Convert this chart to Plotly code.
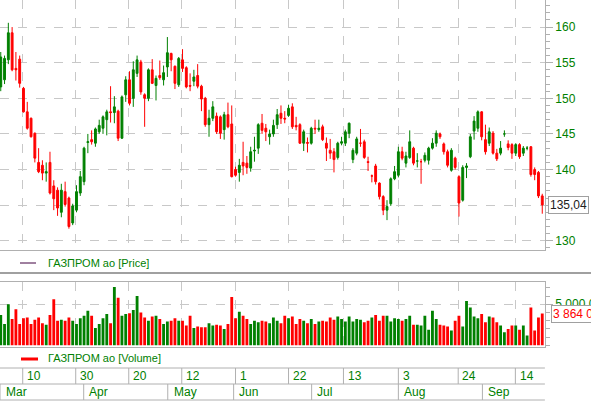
import plotly.graph_objects as go

# candles (one per trading day, Mar..Sep)
opens = [151.6, 152.6, 155.4, 159.2, 154.2, 155.5, 151.4, 148.1, 147.2, 145.1, 141.0, 140.6, 139.5, 141.0, 137.7, 137.1,
         134.0, 136.9, 136.0, 132.5, 134.3, 136.7, 138.3, 143.8, 144.2, 143.7, 145.3, 145.8, 147.0, 148.1, 148.0, 148.2,
         144.4, 150.5, 152.6, 150.0, 153.5,
         155.1, 150.5, 150.0, 154.0, 151.8, 153.2, 152.6, 154.4, 156.3, 154.5, 151.9, 155.4, 154.3, 151.8, 152.4, 153.2,
         151.7, 150.0, 146.3, 147.2, 147.5, 147.4, 145.6, 147.7, 146.4, 140.0, 139.6, 141.0, 140.9, 140.2, 142.6, 143.0,
         146.5, 145.8, 144.6, 145.0,
         146.3, 147.9, 147.2, 147.6, 148.8, 146.2, 146.3, 143.7, 143.8, 143.7, 145.8, 145.6, 146.0, 143.7, 142.7, 142.5,
         141.7, 143.7, 143.7, 145.1, 141.4, 142.3, 143.7, 143.9, 141.1, 139.1, 140.5, 138.1, 136.2, 134.3, 135.2, 138.7,
         139.2, 142.5, 140.9, 141.7,
         143.0, 141.2, 141.1, 141.3, 141.3, 143.0, 143.7, 145.0, 143.6, 142.5, 139.9, 141.6, 139.0, 135.7, 140.3, 141.8,
         145.4, 145.8, 148.1, 144.2, 143.7, 145.1, 142.3, 142.3, 145.0, 143.6, 143.5, 142.3, 143.5, 142.3, 143.0, 143.2,
         140.0, 139.6, 136.3]
closes = [155.8, 155.6, 159.2, 154.0, 154.0, 152.1, 148.1, 145.8, 144.6, 141.6, 139.7, 139.5, 139.7, 136.7, 135.9, 134.6,
          137.1, 135.1, 132.0, 134.9, 136.9, 139.0, 143.0, 143.9, 143.9, 145.7, 146.2, 147.4, 148.1, 148.0, 148.8, 144.4,
          150.2, 152.6, 149.3, 154.0, 155.4,
          150.9, 150.0, 154.0, 152.1, 152.8, 152.9, 153.6, 156.4, 155.4, 152.1, 155.6, 154.2, 151.6, 151.7, 153.0, 151.7,
          149.9, 146.3, 147.2, 148.8, 145.3, 145.1, 147.7, 146.0, 139.0, 139.2, 140.6, 140.5, 140.3, 142.5, 142.7, 146.3,
          145.5, 145.3, 145.0, 146.2,
          147.7, 147.2, 147.1, 148.6, 146.0, 146.0, 143.7, 145.3, 143.7, 145.8, 145.7, 145.8, 144.2, 143.0, 142.3, 141.4,
          143.7, 143.9, 145.3, 146.5, 142.7, 144.3, 143.7, 141.7, 141.0, 139.1, 138.3, 136.2, 134.3, 134.8, 138.7, 139.7,
          142.5, 141.6, 141.9, 143.9,
          140.9, 141.2, 141.1, 142.0, 143.0, 143.7, 145.1, 144.6, 142.5, 140.6, 142.7, 140.3, 135.3, 140.3, 140.5, 144.6,
          146.8, 148.1, 144.6, 142.5, 145.3, 142.3, 141.5, 143.0, 145.0, 143.1, 142.3, 143.5, 141.8, 143.0, 143.0, 139.3,
          139.3, 136.3, 135.04]
highs = [156.5, 156.0, 160.6, 160.0, 156.5, 156.0, 151.6, 149.5, 147.3, 145.2, 143.0, 141.3, 141.0, 142.5, 138.5, 137.5,
         138.0, 138.3, 136.2, 135.2, 137.8, 139.8, 143.2, 145.0, 145.5, 145.9, 147.0, 147.6, 148.4, 151.7, 150.3, 148.4,
         150.4, 153.1, 153.8, 155.2, 156.0,
         155.4, 150.7, 154.2, 155.5, 153.2, 155.3, 154.6, 158.6, 156.4, 154.6, 155.8, 156.9, 154.5, 153.5, 154.0, 154.8,
         151.9, 150.2, 148.4, 149.6, 148.0, 147.6, 148.1, 149.4, 149.0, 140.4, 141.5, 143.9, 141.9, 143.2, 144.6, 146.5,
         147.8, 146.4, 145.6, 147.0,
         148.5, 149.0, 148.2, 149.1, 149.3, 147.4, 146.5, 145.6, 144.5, 146.0, 147.0, 147.0, 146.3, 144.5, 144.3, 143.0,
         143.9, 144.6, 145.6, 146.6, 143.0, 144.6, 145.7, 144.2, 141.8, 139.3, 140.8, 138.2, 136.4, 135.7, 138.9, 140.5,
         143.2, 143.2, 142.5, 145.5,
         143.2, 142.3, 141.5, 142.4, 143.2, 144.4, 145.5, 145.2, 143.8, 142.8, 143.0, 141.8, 139.2, 140.6, 140.9, 145.0,
         147.5, 148.3, 148.2, 146.3, 145.9, 145.4, 142.9, 144.0, 145.5, 144.1, 143.7, 143.7, 143.7, 143.3, 143.3, 143.3,
         140.3, 139.8, 136.6]
lows = [151.0, 152.0, 154.8, 153.8, 152.5, 151.5, 148.0, 145.6, 144.5, 141.0, 139.5, 138.5, 138.3, 136.5, 134.3, 133.5,
        133.3, 134.8, 131.7, 132.2, 134.0, 136.3, 137.8, 142.3, 143.5, 143.2, 145.0, 145.0, 144.8, 146.6, 146.5, 144.0,
        144.3, 149.5, 149.0, 148.8, 153.0,
        150.5, 146.0, 149.6, 152.0, 149.7, 152.6, 151.8, 153.0, 153.8, 151.3, 151.6, 153.7, 151.4, 151.0, 151.7, 151.4,
        148.2, 146.0, 144.6, 146.8, 145.0, 144.3, 144.2, 145.8, 138.9, 139.0, 138.3, 139.2, 139.4, 139.7, 141.1, 142.2,
        145.0, 144.0, 143.5, 144.6,
        145.7, 146.4, 146.5, 147.4, 145.7, 145.5, 143.6, 142.6, 142.4, 143.5, 145.0, 145.3, 144.0, 141.2, 141.5, 139.6,
        141.4, 143.4, 143.3, 144.4, 140.9, 142.0, 143.2, 141.5, 139.8, 138.2, 137.9, 135.8, 133.6, 132.9, 134.9, 138.5,
        138.9, 141.3, 140.3, 141.5,
        140.6, 140.3, 138.0, 141.0, 140.7, 142.8, 143.2, 144.3, 142.1, 140.3, 139.7, 140.0, 133.4, 135.5, 138.8, 141.6,
        144.2, 145.3, 144.1, 142.1, 143.3, 142.1, 141.2, 142.0, 144.6, 142.7, 141.5, 141.9, 141.5, 141.9, 142.7, 139.0,
        138.5, 136.0, 133.8]
# volume, millions of shares
volumes = [3.7, 2.6, 5.0, 3.2, 4.4, 2.6, 3.3, 3.4, 2.6, 3.1, 3.4, 2.7, 2.5, 3.7, 5.6, 3.0, 3.1, 3.0, 3.4, 3.0, 2.6,
           3.3, 3.6, 4.2, 3.6, 2.1, 2.6, 3.3, 3.8, 2.7, 7.1, 5.8, 3.6, 3.8, 3.9, 4.3, 6.0,
           4.0, 3.4, 3.0, 3.5, 3.6, 3.2, 2.6, 2.9, 3.0, 3.3, 3.0, 3.0, 2.4, 3.6, 2.1, 2.3, 2.2, 2.2, 2.7, 2.4, 2.5, 2.4,
           2.0, 2.6, 5.9,
           3.3, 4.1, 3.6, 3.2, 2.6, 3.0, 2.8, 3.0, 2.9, 2.7, 3.4,
           3.0, 2.7, 3.6, 3.3, 3.5, 2.6, 3.2, 3.0, 2.7, 3.2, 2.6, 2.9, 3.0, 2.9, 3.4, 3.1, 3.5, 3.2, 2.9, 3.5, 2.9, 3.2,
           3.1, 2.8, 3.0, 3.4, 3.7, 3.0, 3.6, 3.6, 2.9, 3.3, 3.2, 3.0, 3.2, 3.6,
           2.5, 2.5, 2.4, 3.6, 1.9, 4.2, 3.2, 2.5, 2.4, 2.3, 1.8, 3.0, 3.6, 2.3, 5.4, 4.6, 3.5, 3.3, 3.8, 2.8, 3.5, 3.4,
           2.8, 2.4, 1.6, 2.0, 2.4, 2.4, 1.9, 2.4, 1.2, 4.6, 1.8, 3.4, 3.864]

day_ticks = [5.8, 19.8, 33.8, 47.8, 62.0, 76.0, 90.5, 105.0, 120.8, 135.9]
day_labels = ["10", "30", "20", "12", "1", "22", "13", "3", "24", "14"]
month_starts = [-0.2, 21.9, 44.1, 61.5, 82.1, 105.0, 127.2]
month_labels = ["Mar", "Apr", "May", "Jun", "Jul", "Aug", "Sep"]

GREEN = "#008000"
RED = "#ff0000"
GRID = "#c8c8c8"
idx = list(range(len(closes)))
vol = [v * 1e6 for v in volumes]
vol_colors = [GREEN if c >= o else RED for o, c in zip(opens, closes)]

fig = go.Figure()
fig.add_trace(go.Candlestick(x=idx, open=opens, high=highs, low=lows, close=closes,
                             increasing=dict(line=dict(color=GREEN, width=1), fillcolor=GREEN),
                             decreasing=dict(line=dict(color=RED, width=1), fillcolor=RED),
                             whiskerwidth=0, hoverinfo="skip"))
fig.add_trace(go.Bar(x=idx, y=vol, marker_color=vol_colors, marker_line_width=0,
                     width=0.75, xaxis="x2", yaxis="y2", hoverinfo="skip"))

xr = [-0.2, 143.7]
xcommon = dict(range=xr, tickvals=day_ticks, showticklabels=False, showgrid=True,
               gridcolor=GRID, griddash="dash", gridwidth=1, zeroline=False,
               showline=True, linecolor="#b0b0b0", mirror=True, ticks="")
fig.update_layout(
    width=591, height=402, margin=dict(l=0, r=0, t=0, b=0, autoexpand=False),
    paper_bgcolor="white", plot_bgcolor="white", showlegend=False,
    font=dict(family="Liberation Sans, Arial", size=12, color=GREEN),
    xaxis=dict(domain=[0, 0.922], anchor="y", rangeslider=dict(visible=False), **xcommon),
    xaxis2=dict(domain=[0, 0.922], anchor="y2", **xcommon),
    yaxis=dict(domain=[0.378, 1], range=[128.7, 163.8], side="right", tickvals=[130, 135, 140, 145, 150, 155, 160],
               ticks="outside", ticklen=7, tickcolor="#b0b0b0", showgrid=True, gridcolor=GRID, griddash="dash",
               minor=dict(dtick=1, ticks="outside", ticklen=4, tickcolor="#b0b0b0"),
               showline=True, linecolor="#b0b0b0", mirror=True, zeroline=False),
    yaxis2=dict(domain=[0.137, 0.299], range=[-0.2e6, 7.74e6], side="right", tickvals=[5e6],
                ticktext=["5 000 000"], ticks="outside", ticklen=7, tickcolor="#b0b0b0",
                showgrid=True, gridcolor=GRID, griddash="dash",
                minor=dict(dtick=1e6, ticks="outside", ticklen=4, tickcolor="#b0b0b0"),
                showline=True, linecolor="#b0b0b0", mirror=True, zeroline=False),
)

# last value markers
fig.add_annotation(x=548/591, xref="paper", y=closes[-1], yref="y", text="135,04", showarrow=False,
                   xanchor="left", yanchor="middle", bordercolor="#a0a0a0", borderwidth=1, bgcolor="white",
                   font=dict(color="#202020", size=12), borderpad=1)
fig.add_annotation(x=551/591, xref="paper", y=vol[-1], yref="y2", text="3 864 053", showarrow=False,
                   xanchor="left", yanchor="middle", bordercolor="#a0a0a0", borderwidth=1, bgcolor="white",
                   font=dict(color=RED, size=12), borderpad=1)

# legends
fig.add_shape(type="line", xref="paper", yref="paper", x0=20/591, x1=36/591, y0=1-263/402, y1=1-263/402,
              line=dict(color="#400040", width=1))
fig.add_annotation(x=46/591, xref="paper", y=1-263/402, yref="paper", text="ГАЗПРОМ ао [Price]",
                   showarrow=False, xanchor="left", yanchor="middle", font=dict(size=11))
fig.add_shape(type="line", xref="paper", yref="paper", x0=21/591, x1=38/591, y0=1-359/402, y1=1-359/402,
              line=dict(color=RED, width=3))
fig.add_annotation(x=46/591, xref="paper", y=1-358/402, yref="paper", text="ГАЗПРОМ ао [Volume]",
                   showarrow=False, xanchor="left", yanchor="middle", font=dict(size=11))
fig.add_shape(type="line", xref="paper", yref="paper", x0=0, x1=1, y0=1-273/402, y1=1-273/402,
              line=dict(color="#a0a0a0", width=2))

# bottom date axis
for y in [368, 384, 400]:
    fig.add_shape(type="line", xref="paper", yref="paper", x0=0, x1=0.922, y0=1-y/402, y1=1-y/402,
                  line=dict(color="#b0b0b0", width=1))
for t, lab in zip(day_ticks, day_labels):
    fig.add_shape(type="line", xref="x2", yref="paper", x0=t, x1=t, y0=1-368/402, y1=1-384/402,
                  line=dict(color="#b0b0b0", width=1))
    fig.add_annotation(x=t + 0.6, xref="x2", y=1-376/402, yref="paper", text=lab, showarrow=False,
                       xanchor="left", yanchor="middle", font=dict(size=12))
for m, lab in zip(month_starts, month_labels):
    fig.add_shape(type="line", xref="x2", yref="paper", x0=m, x1=m, y0=1-384/402, y1=1-400/402,
                  line=dict(color="#b0b0b0", width=1))
    fig.add_annotation(x=m + 1.0, xref="x2", y=1-392/402, yref="paper", text=lab, showarrow=False,
                       xanchor="left", yanchor="middle", font=dict(size=12))

# page body has a default 8px margin; remove it so the chart sits at the window corner
fig.write_html("out.html", config={"displayModeBar": False},
               post_script="document.body.style.margin='0';")
